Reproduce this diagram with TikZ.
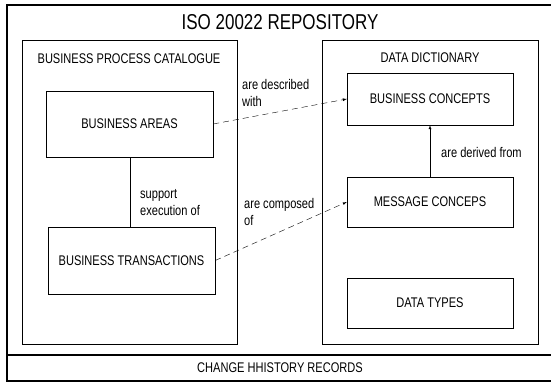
\documentclass[tikz,border=0pt]{standalone}
\usepackage{fontspec}
\setmainfont{Liberation Sans}[FakeStretch=0.79]
\usetikzlibrary{arrows}

\tikzset{
  concept/.style={draw, thin, minimum width=166pt, inner sep=0pt, font=\fontsize{14}{17}\selectfont},
  heading/.style={inner sep=0pt, font=\fontsize{14}{17}\selectfont},
  remark/.style={inner sep=0pt, align=left, font=\fontsize{14}{17}\selectfont},
  link/.style={thin, dash pattern=on 6pt off 4pt, -latex},
}

\begin{document}
\begin{tikzpicture}[x=1pt, y=-1pt]

\clip (0,0) rectangle (551,383);
\fill[white] (0,0) rectangle (551,383);

\draw[-, line width=1.3pt] (7,5) rectangle (553,381);
\draw[-, line width=1.3pt] (7,355) -- (553,355);
\draw[-, line width=1pt] (22,40) rectangle (237,344);
\draw[-, line width=1pt] (322,40) rectangle (538,344);

\node[heading, font=\fontsize{21.5}{24}\selectfont] (repo) at (280,22) {ISO 20022 REPOSITORY};
\node[heading] (history) at (280,368) {CHANGE HHISTORY RECORDS};
\node[heading] (catalogue) at (129,59) {BUSINESS PROCESS CATALOGUE};
\node[heading] (dictionary) at (430,58) {DATA DICTIONARY};

\node[concept, minimum width=167pt, minimum height=66pt] (areas) at (129.5,124) {BUSINESS AREAS};
\node[concept, minimum width=167pt, minimum height=67pt] (transactions) at (131.5,260.5) {BUSINESS TRANSACTIONS};
\node[concept, minimum height=52pt] (bconcepts) at (430,99) {BUSINESS CONCEPTS};
\node[concept, minimum height=50pt] (mconcepts) at (430,202) {MESSAGE CONCEPS};
\node[concept, minimum height=50pt] (types) at (430,303) {DATA TYPES};

\draw[-, thin] (areas.south -| 130,0) -- (transactions.north -| 130,0);
\draw[thin, -latex] (mconcepts) -- (bconcepts);
\draw[link] (areas.east) -- (bconcepts.west);
\draw[link] (transactions.east) -- (mconcepts.west);

\node[remark, anchor=west] (described) at (242,93) {are described\\with};
\node[remark, anchor=west] (composed) at (244,212) {are composed\\of};
\node[remark, anchor=west] (support) at (140,203) {support\\execution of};
\node[remark, anchor=west] (derived) at (441,152) {are derived from};

\end{tikzpicture}
\end{document}
